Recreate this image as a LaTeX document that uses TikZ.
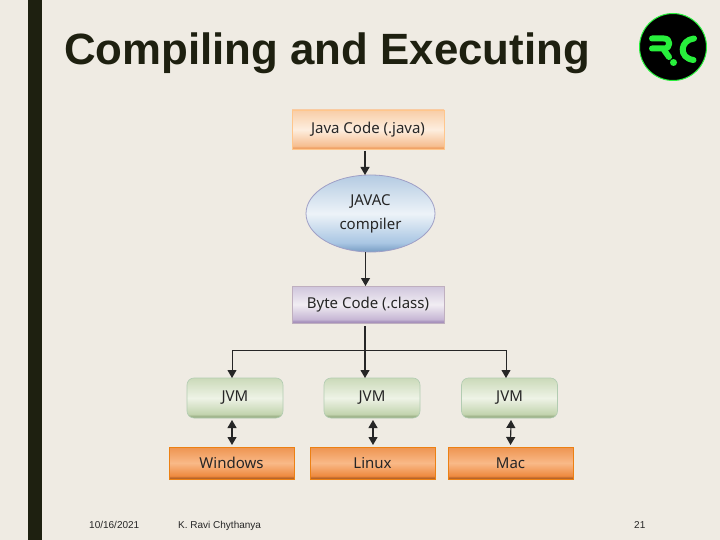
\documentclass[tikz,border=0pt]{standalone}
\usepackage{fontspec}
\setmainfont{Liberation Sans}
\newfontfamily\boxfont{Noto Sans}
\usetikzlibrary{positioning,arrows.meta,shapes.geometric}
\definecolor{slidebg}{HTML}{EFEBE3}
\definecolor{slidebar}{HTML}{1E2010}
\definecolor{logogreen}{HTML}{28F03C}
\definecolor{javaA}{HTML}{F0A468}\definecolor{javaB}{HTML}{F6BE90}\definecolor{javaC}{HTML}{FDEEDF}\definecolor{javaD}{HTML}{F8CDA6}
\definecolor{compA}{HTML}{7FA3C8}\definecolor{compB}{HTML}{A9C6E3}\definecolor{compC}{HTML}{EDF3F8}\definecolor{compD}{HTML}{B4CBE2}
\definecolor{byteA}{HTML}{A792BC}\definecolor{byteB}{HTML}{C6B6D4}\definecolor{byteC}{HTML}{F1EDF3}\definecolor{byteD}{HTML}{CFC5DC}
\definecolor{jvmA}{HTML}{9DB187}\definecolor{jvmB}{HTML}{C3D4AF}\definecolor{jvmC}{HTML}{EEF3E6}\definecolor{jvmD}{HTML}{CBDAB9}
\definecolor{osA}{HTML}{B8652A}\definecolor{osB}{HTML}{EE8A3F}\definecolor{osC}{HTML}{F9B988}\definecolor{osD}{HTML}{EE9450}
\pgfdeclareverticalshading{javashade}{100bp}{color(0bp)=(javaA);color(27bp)=(javaA);color(29bp)=(javaB);color(50bp)=(javaC);color(75bp)=(javaD);color(100bp)=(javaD)}
\pgfdeclareverticalshading{compshade}{100bp}{color(0bp)=(compA);color(26bp)=(compA);color(31bp)=(compB);color(50bp)=(compC);color(75bp)=(compD);color(100bp)=(compD)}
\pgfdeclareverticalshading{byteshade}{100bp}{color(0bp)=(byteA);color(27bp)=(byteA);color(30bp)=(byteB);color(50bp)=(byteC);color(75bp)=(byteD);color(100bp)=(byteD)}
\pgfdeclareverticalshading{jvmshade}{100bp}{color(0bp)=(jvmA);color(27bp)=(jvmA);color(30bp)=(jvmB);color(50bp)=(jvmC);color(75bp)=(jvmD);color(100bp)=(jvmD)}
\pgfdeclareverticalshading{osshade}{100bp}{color(0bp)=(osA);color(27bp)=(osA);color(30bp)=(osB);color(50bp)=(osC);color(75bp)=(osD);color(100bp)=(osD)}
\tikzset{basic/.style={inner sep=0pt,outer sep=0pt,font=\boxfont\fontsize{15}{17}\selectfont,text=black!85,align=center}}
\tikzset{javabox/.style={basic,rectangle,draw=orange!45!white,line width=0.6pt,shading=javashade,minimum width=152pt,minimum height=39pt}}
\tikzset{compiler/.style={basic,ellipse,draw=blue!25!gray!60,line width=0.8pt,shading=compshade,minimum width=129pt,minimum height=77pt}}
\tikzset{bytebox/.style={basic,rectangle,draw=violet!25!gray!50,line width=0.6pt,shading=byteshade,minimum width=152pt,minimum height=37pt}}
\tikzset{jvmbox/.style={basic,rectangle,rounded corners=7pt,draw=green!20!gray!50,line width=0.6pt,shading=jvmshade,minimum width=96pt,minimum height=40pt}}
\tikzset{osbox/.style={basic,rectangle,draw=orange!70!brown,line width=0.6pt,shading=osshade,minimum width=125pt,minimum height=32pt}}
\tikzset{footer/.style={font=\fontsize{10}{12}\selectfont,text=black!85,inner sep=0pt,anchor=base west}}
\tikzset{>={Triangle[width=9pt,length=8pt]}}
\tikzset{flow/.style={line width=1.1pt,black!85}}
\tikzset{logostroke/.style={draw=logogreen,line width=6pt,line cap=round,line join=round}}
\begin{document}
\begin{tikzpicture}[x=1pt,y=-1pt]
    \useasboundingbox (0,0) rectangle (720,540);
    \fill[slidebg] (0,0) rectangle (720,540);
    \fill[slidebar] (28,0) rectangle (42,540);
    \node[font=\bfseries\fontsize{43.8}{50}\selectfont,text=slidebar,inner sep=0pt,anchor=base west] (title) at (64,65) {Compiling and Executing};
    % logo
    \fill[black] (673,47) circle (33.5);
    \draw[logogreen,line width=1pt] (673,47) circle (33.5);
    \draw[logostroke] (652,38.5) -- (664,38.5) .. controls (671,38.5) and (671,48.5) .. (664,48.5) -- (652,48.5);
    \draw[logostroke] (664,50) -- (669,57);
    \fill[logogreen] (673.5,62.5) circle (3.5);
    \draw[logostroke] (694,38.5) .. controls (680,40) and (678,58) .. (693.5,60);
    \node[javabox] (java) at (368,129.5) {\raisebox{2pt}{Java Code (.java)}};
    \node[compiler,below=26pt of java,xshift=2.5pt] (javac) {JAVAC\\[7pt]compiler};
    \node[bytebox,below=34pt of javac,xshift=-2.5pt] (byte) {Byte Code (.class)};
    \node[jvmbox,below=55pt of byte,xshift=4pt] (jvm2) {JVM};
    \node[jvmbox,left=41pt of jvm2] (jvm1) {JVM};
    \node[jvmbox,right=41.5pt of jvm2] (jvm3) {JVM};
    \node[osbox,below=29pt of jvm1,xshift=-3.5pt] (windows) {Windows};
    \node[osbox,below=29pt of jvm2,xshift=0.5pt] (linux) {Linux};
    \node[osbox,below=29pt of jvm3,xshift=1pt] (mac) {Mac};
    \coordinate[below=27pt of byte,xshift=-3pt] (bus);
    \path[draw,flow,->] ([xshift=-3pt,yshift=-2pt]java.south) -- ([xshift=-5.5pt]javac.north);
    \path[draw,flow,->] ([xshift=-5pt]javac.south) -- ([xshift=-2.5pt]byte.north);
    \path[draw,flow] ([xshift=-3pt,yshift=-3pt]byte.south) -- (bus);
    \path[draw,flow,->] (bus) -- ([xshift=-7pt]jvm2.north);
    \path[draw,flow,line width=0.8pt,->] (bus) -| ([xshift=-3pt]jvm1.north);
    \path[draw,flow,line width=0.8pt,->] (bus) -| ([xshift=-3.5pt]jvm3.north);
    \path[draw,flow,<->] ([xshift=-3pt,yshift=-2pt]jvm1.south) -- ([xshift=0.5pt,yshift=2pt]windows.north);
    \path[draw,flow,<->] ([xshift=1pt,yshift=-2pt]jvm2.south) -- ([xshift=0.5pt,yshift=2pt]linux.north);
    \path[draw,flow,<->] ([xshift=1.5pt,yshift=-2pt]jvm3.south) -- ([yshift=2pt]mac.north);
    \node[footer] (date) at (89,528) {10/16/2021};
    \node[footer] (author) at (178,528) {K. Ravi Chythanya};
    \node[footer] (page) at (634,528) {21};
\end{tikzpicture}
\end{document}
